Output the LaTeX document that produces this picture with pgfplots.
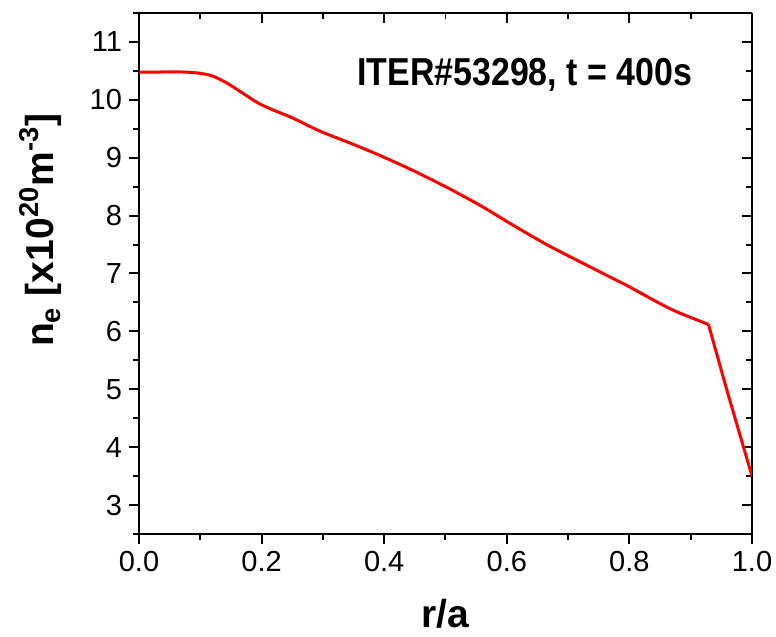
\documentclass[border=0pt]{standalone}
\usepackage{pgfplots}
\pgfplotsset{compat=1.18}
\usepackage{fontspec}
\setmainfont{Liberation Sans}

\begin{document}
\begin{tikzpicture}
\pgfplotsset{
  every axis/.append style={
    scale only axis, width=306.5pt, height=260.5pt,
    xmin=0, xmax=1, ymin=2.5, ymax=11.5,
    xtick={0,0.2,...,1.0}, minor xtick={0.1,0.3,...,0.9},
    ytick={3,...,11}, minor ytick={2.5,3.5,...,11.5},
    axis line style={line width=1pt},
    major tick length=5pt, minor tick length=3pt,
    every tick/.style={black, line width=1pt},
  }
}
% ticks on right and top, pointing inward
\begin{axis}[
    axis x line*=top, axis y line*=right,
    tick align=inside,
    xticklabels={}, yticklabels={},
]
\addplot[draw=none] coordinates {(0,3)};
\end{axis}
\begin{axis}[
    axis x line*=bottom, axis y line*=left,
    tick align=outside,
    /pgf/number format/assume math mode=true,
    tick label style={font=\fontsize{14.5}{14.5}\selectfont},
    xticklabel style={/pgf/number format/.cd, fixed, fixed zerofill, precision=1},
    xlabel={\textbf{r/a}},
    ylabel={\textbf{n\textsubscript{e} [x10\textsuperscript{20}m\textsuperscript{-3}]}},
    xlabel style={font=\fontsize{19.5}{19.5}\selectfont, yshift=-7pt},
    ylabel style={font=\fontsize{19.5}{19.5}\selectfont,
      at={(axis description cs:-0.16,0.583)}, anchor=center},
]
\addplot[red, line width=1.5pt, smooth, tension=0.4] coordinates {
    (0,10.48) (0.03,10.48) (0.06,10.485) (0.09,10.47) (0.11,10.44)
    (0.125,10.39) (0.145,10.28) (0.17,10.11) (0.195,9.94) (0.22,9.82)
    (0.25,9.69) (0.295,9.46) (0.35,9.23) (0.393,9.04) (0.447,8.78)
    (0.502,8.49) (0.556,8.18) (0.611,7.83) (0.665,7.50) (0.72,7.2)
    (0.774,6.91) (0.80,6.77) (0.85,6.48) (0.877,6.34) (0.905,6.22)
    (0.929,6.12)
};
\addplot[red, line width=1.5pt] coordinates {
    (0.929,6.12) (0.96,4.95) (1.0,3.5)
};
\node[anchor=base west, font=\fontsize{19.5}{19.5}\selectfont\bfseries, inner sep=0pt]
  at (axis cs:0.3556,10.25) {\scalebox{0.87}[1]{ITER\#53298, t = 400s}};
\coordinate (bl) at (rel axis cs:-0.2268,-0.1977);
\coordinate (tr) at (rel axis cs:1.0392,1.025);
\end{axis}
\pgfresetboundingbox
\path (bl) rectangle (tr);
\end{tikzpicture}
\end{document}
